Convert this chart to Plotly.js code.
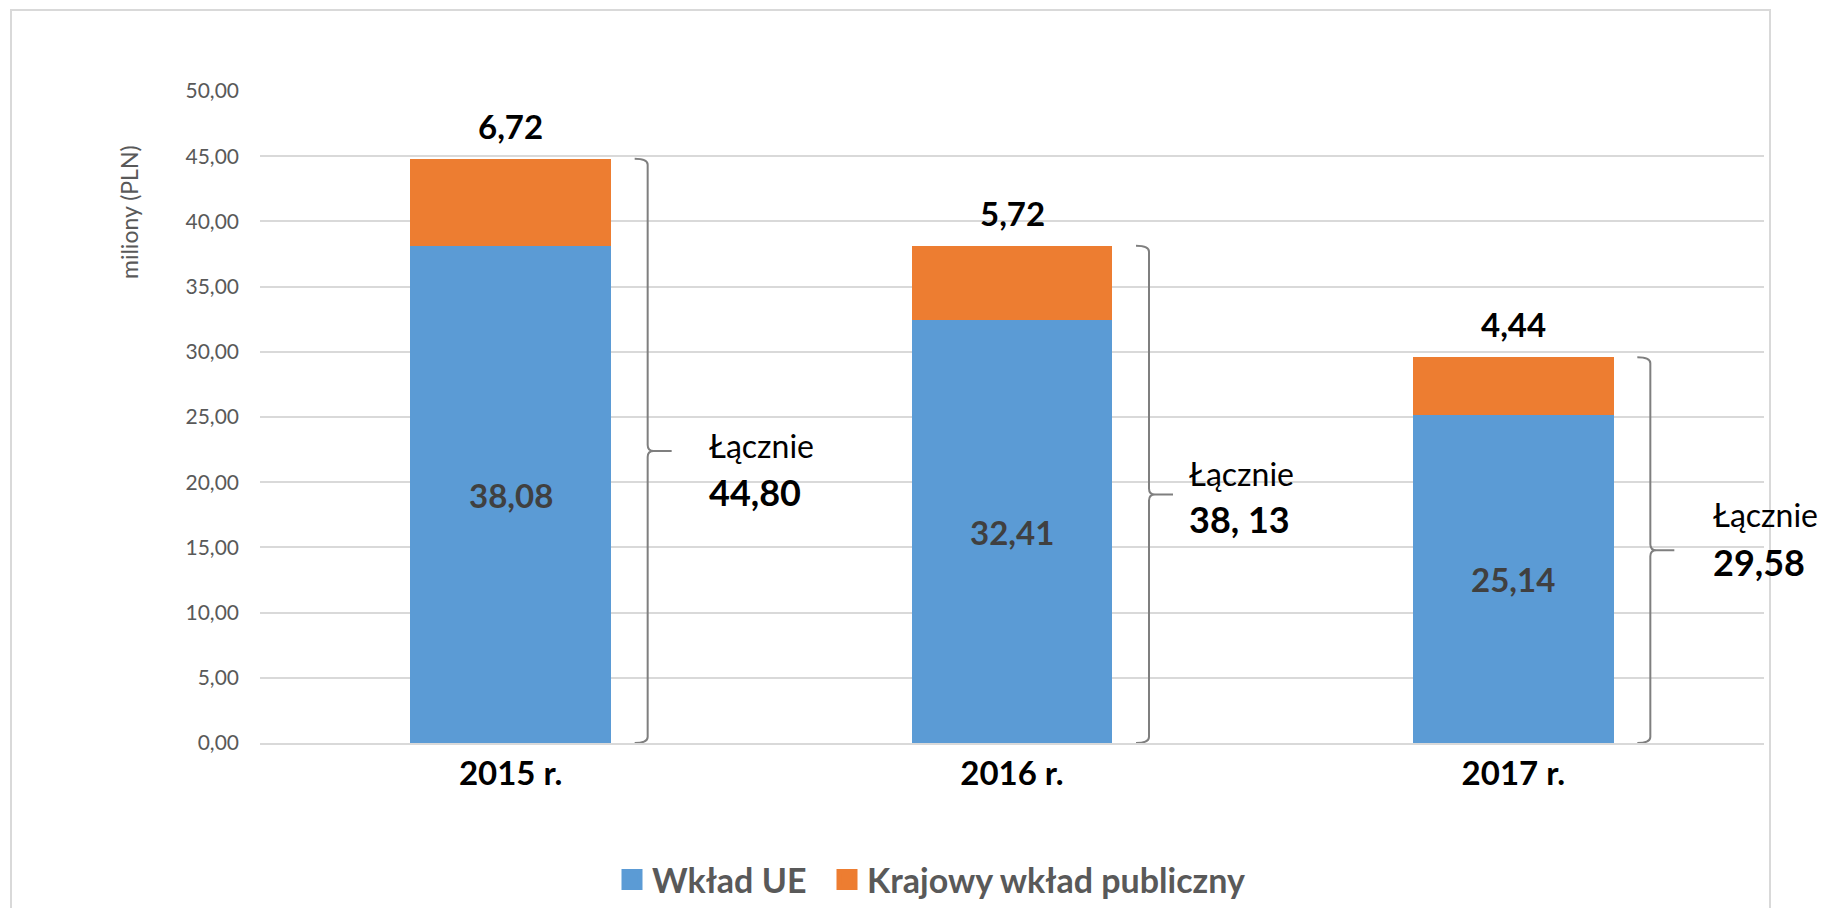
<!DOCTYPE html>
<html>
<head>
<meta charset="utf-8">
<script src="https://cdn.plot.ly/plotly-3.0.1.min.js"></script>
<style>html,body{margin:0;padding:0;background:#fff;}#chart{width:1838px;height:908px;}</style>
</head>
<body>
<div id="chart"></div>
<script>
// ---- data ----
const categories = ["2015 r.", "2016 r.", "2017 r."];
const euContribution = [38.08, 32.41, 25.14];
const nationalContribution = [6.72, 5.72, 4.44];
const totalLabels = ["44,80", "38, 13", "29,58"];
const seriesNames = ["Wkład UE", "Krajowy wkład publiczny"];
const yTitle = "miliony (PLN)";
const totalWord = "Łącznie";

// ---- layout helpers ----
const FONT = "Lato, 'Open Sans', sans-serif";
const BLUE = "#5b9bd5", ORANGE = "#ed7d31";
const idx = categories.map((c, i) => i);
const totals = idx.map(i => euContribution[i] + nationalContribution[i]);
const fmt = v => v.toFixed(2).replace(".", ",");

// pixel geometry of plot area
const L = 260, R = 1764, T = 91, B = 743;
const pxPerX = (R - L) / 3, pxPerY = (B - T) / 50;

// bracket geometry (in px, relative to category centre)
const brV = 137, brHook = 124, brTick = 161, rPx = 6;
const shapes = [];
idx.forEach(i => {
  const xv = i + brV / pxPerX, xh = i + brHook / pxPerX, xt = i + brTick / pxPerX;
  const xr = rPx / pxPerX, yr = rPx / pxPerY;
  const top = totals[i], mid = totals[i] / 2;
  const p = `M${xh},${top} Q${xv},${top} ${xv},${top - yr} L${xv},${mid + yr} Q${xv},${mid} ${xv + xr},${mid} L${xt},${mid} M${xv + xr},${mid} Q${xv},${mid} ${xv},${mid - yr} L${xv},${yr} Q${xv},0 ${xh},0`;
  shapes.push({type: "path", xref: "x", yref: "y", path: p, line: {color: "#7f7f7f", width: 2}, layer: "above"});
});
// outer chart border
shapes.push({type: "rect", xref: "paper", yref: "paper",
  x0: (11 - L) / (R - L), x1: (1770 - L) / (R - L),
  y0: (B - 960) / (B - T), y1: (B - 10) / (B - T),
  line: {color: "#d9d9d9", width: 2}, layer: "below"});

// label placement for the "Łącznie" blocks (px positions)
const totalWordPos = [[707, 445], [1187, 473], [1711, 514]];
const totalNumPos = [[707, 492], [1187, 519], [1711, 562]];
const toX = px => (px - L) / pxPerX - 0.5;
const toY = py => (B - py) / pxPerY;

const annotations = [];
idx.forEach(i => {
  // value of the EU part, centred in the blue segment
  annotations.push({x: i, y: euContribution[i] / 2, xref: "x", yref: "y", showarrow: false,
    xanchor: "center", yanchor: "middle",
    text: "<b>" + fmt(euContribution[i]) + "</b>",
    font: {family: FONT, size: 33, color: "#404040"}});
  // value of the national part, above the stack
  annotations.push({x: i, y: totals[i], xref: "x", yref: "y", yshift: 33, showarrow: false,
    text: "<b>" + fmt(nationalContribution[i]) + "</b>",
    font: {family: FONT, size: 33, color: "#000"}});
  annotations.push({x: toX(totalWordPos[i][0]), y: toY(totalWordPos[i][1]), xref: "x", yref: "y",
    xanchor: "left", yanchor: "middle", showarrow: false, text: totalWord,
    font: {family: FONT, size: 32, color: "#000"}});
  annotations.push({x: toX(totalNumPos[i][0]), y: toY(totalNumPos[i][1]), xref: "x", yref: "y",
    xanchor: "left", yanchor: "middle", showarrow: false, text: "<b>" + totalLabels[i] + "</b>",
    font: {family: FONT, size: 36, color: "#000"}});
});
annotations.push({xref: "paper", yref: "paper", x: (129 - L) / (R - L), y: (B - 212) / (B - T),
  xanchor: "center", yanchor: "middle", showarrow: false, textangle: -90, text: yTitle,
  font: {family: FONT, size: 23, color: "#595959"}});

const traces = [
  {type: "bar", name: seriesNames[0], x: idx, y: euContribution, width: 0.4,
    marker: {color: BLUE}, showlegend: false, hoverinfo: "none", textposition: "none"},
  {type: "bar", name: seriesNames[1], x: idx, y: nationalContribution, width: 0.4,
    marker: {color: ORANGE}, showlegend: false, hoverinfo: "none", textposition: "none"},
  {type: "scatter", mode: "markers", name: seriesNames[0], x: [null], y: [null], legend: "legend",
    marker: {symbol: "square", size: 16, color: BLUE, line: {color: BLUE, width: 5}}},
  {type: "scatter", mode: "markers", name: seriesNames[1], x: [null], y: [null], legend: "legend2",
    marker: {symbol: "square", size: 16, color: ORANGE, line: {color: ORANGE, width: 5}}}
];

const legendFont = {family: FONT, size: 34, color: "#595959", weight: 700};
const legendY = (B - 880) / (B - T);

const layout = {
  width: 1838, height: 908,
  margin: {l: L, r: 1838 - R, t: T, b: 908 - B, pad: 0, autoexpand: false},
  paper_bgcolor: "#fff", plot_bgcolor: "#fff",
  separators: ", ",
  barmode: "stack",
  showlegend: true,
  legend: {orientation: "h", x: (612 - L) / (R - L), xanchor: "left", y: legendY, yanchor: "middle",
    font: legendFont, itemclick: false},
  legend2: {orientation: "h", x: (827 - L) / (R - L), xanchor: "left", y: legendY, yanchor: "middle",
    font: legendFont, itemclick: false},
  xaxis: {range: [-0.5, 2.5], tickvals: idx, ticktext: categories, showgrid: false, zeroline: false,
    showline: true, linecolor: "#d9d9d9", linewidth: 2, ticks: "", ticklabelstandoff: 0,
    tickfont: {family: FONT, size: 33, color: "#000", weight: 700}, fixedrange: true},
  yaxis: {range: [0, 50], dtick: 5, tick0: 0, tickformat: ".2f", showgrid: true, gridcolor: "#d9d9d9",
    gridwidth: 2, zeroline: false, showline: false, ticks: "", ticklabelstandoff: 20,
    tickfont: {family: FONT, size: 21, color: "#595959"}, fixedrange: true},
  shapes: shapes,
  annotations: annotations,
  font: {family: FONT}
};

Plotly.newPlot("chart", traces, layout, {displayModeBar: false, staticPlot: true});
</script>
</body>
</html>
